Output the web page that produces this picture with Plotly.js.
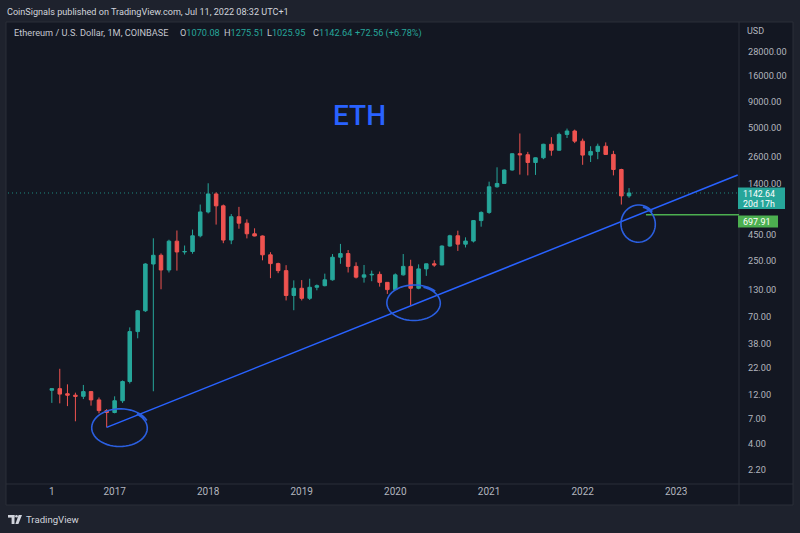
<!DOCTYPE html>
<html>
<head>
<meta charset="utf-8">
<script src="https://cdn.plot.ly/plotly-3.0.1.min.js"></script>
<style>
html,body{margin:0;padding:0;background:#1e222d;}
#chart{width:800px;height:533px;}
</style>
</head>
<body>
<div id="chart"></div>
<script>
// ---- data (monthly candles) ----
const months = [
 '2016-05','2016-06','2016-07','2016-08','2016-09','2016-10','2016-11','2016-12',
 '2017-01','2017-02','2017-03','2017-04','2017-05','2017-06','2017-07','2017-08','2017-09','2017-10','2017-11','2017-12',
 '2018-01','2018-02','2018-03','2018-04','2018-05','2018-06','2018-07','2018-08','2018-09','2018-10','2018-11','2018-12',
 '2019-01','2019-02','2019-03','2019-04','2019-05','2019-06','2019-07','2019-08','2019-09','2019-10','2019-11','2019-12',
 '2020-01','2020-02','2020-03','2020-04','2020-05','2020-06','2020-07','2020-08','2020-09','2020-10','2020-11','2020-12',
 '2021-01','2021-02','2021-03','2021-04','2021-05','2021-06','2021-07','2021-08','2021-09','2021-10','2021-11','2021-12',
 '2022-01','2022-02','2022-03','2022-04','2022-05','2022-06','2022-07'
];
const openP = [
 13.3,13.8,12.3,11.9,11.6,12.9,10.7,8.4,
 8.05,10.5,16.2,50,80,230,280,201,385,302,305,435,
 745,1118,855,395,669,578,455,433,283,232,198,113,
 133,106,136,141,161,268,291,218,171,180,182,152,
 129,180,218,133,206,231,225,345,435,360,386,613,
 737,1314,1417,1919,2773,2710,2275,2530,3433,3001,4288,4630,
 3683,2688,2920,3282,2728,1942,1070.08
];
const highP = [
 13.9,21.6,15.2,12.6,15.0,13.1,11.3,8.7,
 11.6,16.6,55,81.5,234,411,292,398,490,349,500,880,
 1423,1160,880,710,835,630,515,438,300,237,224,159,
 160,165,145,185,288,362,315,239,225,198,194,152,
 186,288,253,228,227,250,350,445,488,420,620,755,
 1475,2041,1943,2797,4380,2890,2550,3470,4027,4460,4891,4778,
 3900,3284,3482,3580,2962,1975,1275.51
];
const lowP = [
 10.0,9.9,9.3,6.6,10.9,9.4,7.9,5.75,
 7.9,10.0,15.5,43,78,13,130,190,198,285,290,420,
 720,560,368,360,510,410,430,250,167,187,101,81,
 101,102,127,139,158,231,190,166,151,156,138,117,
 127,177,90,130,176,216,224,340,309,334,374,534,
 714,1290,1410,1895,1730,1700,1718,2450,2652,2970,3955,3524,
 2159,2300,2450,2710,1700,880,1025.95
];
const closeP = [
 13.8,12.2,11.9,11.6,12.9,10.7,8.4,8.05,
 10.5,16.2,50,80,230,280,201,385,302,305,435,745,
 1118,855,395,669,578,455,433,283,232,198,113,133,
 106,136,141,161,268,291,218,171,180,182,152,129,
 180,218,133,206,231,225,345,435,360,386,613,737,
 1314,1417,1919,2773,2710,2275,2530,3433,3001,4288,4630,3683,
 2688,2920,3282,2728,1942,1070,1142.64
];
// axis ticks
const timeTickDates = ['2016-05-01','2017-01-01','2018-01-01','2019-01-01','2020-01-01','2021-01-01','2022-01-01','2023-01-01'];
const timeTickLabels = ['1','2017','2018','2019','2020','2021','2022','2023'];
const priceTicks = [28000,16000,9000,5000,2600,1400,450,250,130,70,38,22,12,7,4,2.2];
const priceTickLabels = ['28000.00','16000.00','9000.00','5000.00','2600.00','1400.00','450.00','250.00','130.00','70.00','38.00','22.00','12.00','7.00','4.00','2.20'];
// drawings
const trendDates = ['2016-12-01','2023-08-29'];
const trendPrices = [5.75, 1715];
const supportStart = '2022-09-05';
const supportLevel = 697.91;
const countdown = '20d 17h';
const xRange = ['2015-11-12','2023-09-03'];
const yRange = [0.2049, 4.7245];

// ---- layout helpers (pixel -> paper) ----
const PL = 8, PR = 739, PT = 23, PB = 484;
const X = px => (px - PL) / (PR - PL);
const Y = py => (PB - py) / (PB - PT);

const GREEN = '#26a69a', RED = '#ef5350', BLUE = '#2962ff', DRAW = '#2b5fe0';
const FONT = 'Roboto, "Open Sans", sans-serif';
const AXC = '#b2b5be';

function ellipsePath(cx, cy, rx, ry, start, sweep, grow) {
  let d = '';
  const n = 60;
  for (let i = 0; i <= n; i++) {
    const t = start + sweep * i / n;
    const g = 1 + grow * i / n;
    const px = cx + rx * g * Math.cos(t);
    const py = cy + ry * g * Math.sin(t);
    d += (i === 0 ? 'M' : 'L') + X(px).toFixed(5) + ',' + Y(py).toFixed(5);
  }
  return d;
}
function rectPaper(x0, y0, x1, y1, fill, line) {
  return {type: 'rect', xref: 'paper', yref: 'paper', x0: X(x0), x1: X(x1), y0: Y(y1), y1: Y(y0),
    fillcolor: fill, line: {color: line || fill, width: line ? 1 : 0}, layer: 'above'};
}

const lastClose = closeP[closeP.length - 1];
const lastOpen = openP[openP.length - 1];
const lastHigh = highP[highP.length - 1];
const lastLow = lowP[lowP.length - 1];
const chg = lastClose - lastOpen;
const chgPct = chg / lastOpen * 100;

const trace = {
  type: 'candlestick',
  x: months, open: openP, high: highP, low: lowP, close: closeP,
  increasing: {line: {color: GREEN, width: 1}, fillcolor: GREEN},
  decreasing: {line: {color: RED, width: 1}, fillcolor: RED},
  whiskerwidth: 0,
  hoverinfo: 'skip'
};

const shapes = [
  // chart container
  {type: 'rect', xref: 'paper', yref: 'paper', x0: X(6), x1: X(793), y0: Y(505), y1: Y(22),
   fillcolor: '#131722', line: {color: '#2a2e39', width: 1}, layer: 'below'},
  {type: 'line', xref: 'paper', yref: 'paper', x0: X(739), x1: X(739), y0: Y(505), y1: Y(22),
   line: {color: '#2a2e39', width: 1}, layer: 'above'},
  {type: 'line', xref: 'paper', yref: 'paper', x0: X(6), x1: X(793), y0: Y(484), y1: Y(484),
   line: {color: '#2a2e39', width: 1}, layer: 'above'},
  // last price dotted line
  {type: 'line', xref: 'paper', yref: 'y', x0: 0, x1: 1, y0: lastClose, y1: lastClose,
   line: {color: '#1f8a80', width: 1, dash: '1px,3px'}, layer: 'below'},
  // trend line
  {type: 'line', xref: 'x', yref: 'y', x0: trendDates[0], x1: trendDates[1], y0: trendPrices[0], y1: trendPrices[1],
   line: {color: BLUE, width: 1.5}, layer: 'above'},
  // support horizontal ray
  {type: 'line', xref: 'x', yref: 'y', x0: supportStart, x1: xRange[1], y0: supportLevel, y1: supportLevel,
   line: {color: '#4caf50', width: 1.5}, layer: 'above'},
  // hand drawn circles
  {type: 'path', xref: 'paper', yref: 'paper', path: ellipsePath(120, 428, 27, 18, -0.9, 2 * Math.PI + 0.5, 0.08),
   line: {color: DRAW, width: 1.6}, layer: 'above'},
  {type: 'path', xref: 'paper', yref: 'paper', path: ellipsePath(414, 303, 26, 17, -1.2, 2 * Math.PI + 0.5, 0.07),
   line: {color: DRAW, width: 1.6}, layer: 'above'},
  {type: 'path', xref: 'paper', yref: 'paper', path: ellipsePath(638.5, 224, 16.5, 17.5, -1.3, 2 * Math.PI + 0.6, 0.1),
   line: {color: DRAW, width: 1.6}, layer: 'above'},
  // price badges
  rectPaper(738, 187.5, 785, 209, GREEN),
  rectPaper(738, 215.5, 778, 227.5, '#4caf50'),
  // TradingView logo
  rectPaper(8, 515, 14.5, 517.6, '#d1d4dc'),
  rectPaper(11.6, 515, 14.5, 524, '#d1d4dc'),
  {type: 'circle', xref: 'paper', yref: 'paper', x0: X(15.2), x1: X(17.8), y0: Y(517.6), y1: Y(515),
   fillcolor: '#d1d4dc', line: {width: 0}, layer: 'above'},
  {type: 'path', xref: 'paper', yref: 'paper',
   path: 'M' + X(18.6) + ',' + Y(515) + 'L' + X(22) + ',' + Y(515) + 'L' + X(18.4) + ',' + Y(524) + 'L' + X(15.4) + ',' + Y(524) + 'Z',
   fillcolor: '#d1d4dc', line: {width: 0}, layer: 'above'}
];

function ann(text, px, py, size, color, xanchor, extra) {
  return Object.assign({text: text, xref: 'paper', yref: 'paper', x: X(px), y: Y(py),
    xanchor: xanchor || 'left', yanchor: 'middle', showarrow: false, borderpad: 0,
    font: {family: FONT, size: size, color: color}}, extra || {});
}
const G = s => '<span style="color:' + GREEN + '">' + s + '</span>';
const LEG = 9.2;
const annotations = [
  ann('CoinSignals published on TradingView.com, Jul 11, 2022 08:32 UTC+1', 6, 12, 9.1, '#d1d4dc'),
  ann('Ethereum / U.S. Dollar, 1M, COINBASE', 13, 33, LEG, '#c3c6ce'),
  ann('O' + G(lastOpen.toFixed(2)), 179, 33, LEG, '#c3c6ce'),
  ann('H' + G(lastHigh.toFixed(2)), 223, 33, LEG, '#c3c6ce'),
  ann('L' + G(lastLow.toFixed(2)), 266, 33, LEG, '#c3c6ce'),
  ann('C' + G(lastClose.toFixed(2)), 312, 33, LEG, '#c3c6ce'),
  ann(G('+' + chg.toFixed(2) + ' (+' + chgPct.toFixed(2) + '%)'), 354, 33, LEG, '#c3c6ce'),
  ann('USD', 746, 31, 9, AXC),
  ann('ETH', 359, 115, 28, BLUE, 'center', {font: {family: FONT, size: 28, color: BLUE, weight: 500}}),
  ann(lastClose.toFixed(2), 742, 193.8, 8.8, '#ffffff'),
  ann(countdown, 742, 203.5, 8.8, '#ffffff'),
  ann(supportLevel.toFixed(2), 742, 221.5, 9, '#ffffff'),
  ann('TradingView', 25, 519.5, 9.6, '#d1d4dc')
];

const layout = {
  width: 800, height: 533,
  margin: {l: PL, r: 800 - PR, t: PT, b: 533 - PB, pad: 0},
  paper_bgcolor: '#1e222d', plot_bgcolor: '#131722',
  showlegend: false, dragmode: false,
  font: {family: FONT, color: AXC, size: 9},
  xaxis: {
    type: 'date', range: xRange, rangeslider: {visible: false},
    tickmode: 'array', tickvals: timeTickDates, ticktext: timeTickLabels,
    showgrid: false, zeroline: false, showline: false, ticks: '',
    tickfont: {family: FONT, size: 10, color: AXC}, fixedrange: true
  },
  yaxis: {
    type: 'log', range: yRange, side: 'right',
    tickmode: 'array', tickvals: priceTicks, ticktext: priceTickLabels,
    showgrid: false, zeroline: false, showline: false, ticks: '', ticklen: 0,
    ticklabelstandoff: 8,
    tickfont: {family: FONT, size: 9.2, color: AXC}, fixedrange: true
  },
  shapes: shapes,
  annotations: annotations
};

Plotly.newPlot('chart', [trace], layout, {staticPlot: true, displayModeBar: false});
</script>
</body>
</html>
